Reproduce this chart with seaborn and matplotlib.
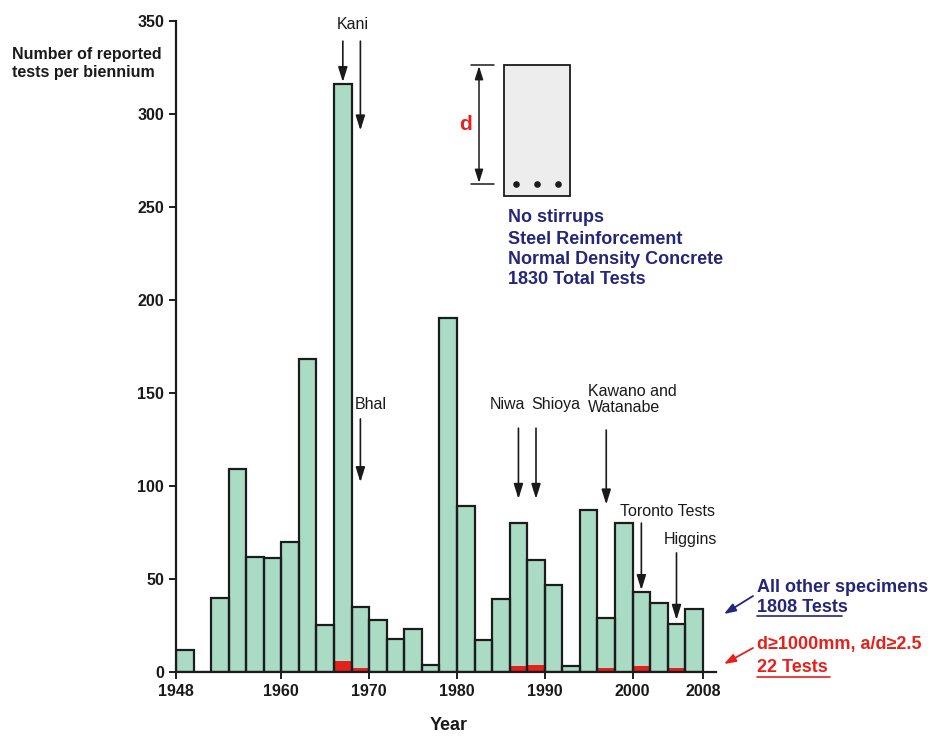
import numpy as np
import pandas as pd
import matplotlib
matplotlib.use("Agg")
import matplotlib.pyplot as plt
import seaborn as sns
from matplotlib.patches import Rectangle

# ---------------- data ----------------
years = [1948, 1952, 1954, 1956, 1958, 1960, 1962, 1964, 1966, 1968,
         1970, 1972, 1974, 1976, 1978, 1980, 1982, 1984, 1986, 1988,
         1990, 1992, 1994, 1996, 1998, 2000, 2002, 2004, 2006]
total_tests = [12, 40, 109, 62, 61, 70, 168, 25, 316, 35,
               28, 18, 23, 4, 190, 89, 17, 39, 80, 60,
               47, 3, 87, 29, 80, 43, 37, 26, 34]
large_tests = [0, 0, 0, 0, 0, 0, 0, 0, 6, 2,
               0, 0, 0, 0, 0, 0, 0, 0, 3, 4,
               0, 0, 0, 2, 0, 3, 0, 2, 0]
x_ticks = [1948, 1960, 1970, 1980, 1990, 2000, 2008]
y_ticks = [0, 50, 100, 150, 200, 250, 300, 350]

# annotations: (label, arrow year, arrow start value, arrow end value)
annotations = [
    ("Kani", 1967, 339, 317),
    ("", 1969, 339, 291),
    ("Bhal", 1969, 136, 102),
    ("Niwa", 1987, 131, 93),
    ("Shioya", 1989, 131, 93),
    ("Kawano and\nWatanabe", 1997, 130, 90),
    ("Toronto Tests", 2001, 80, 44),
    ("Higgins", 2005, 64, 28),
]

df = pd.DataFrame({"year": years, "total": total_tests, "large": large_tests})

GREEN = "#aadcc5"
RED = "#e5211c"
NAVY = "#25257a"
EDGE = "#1c1c1c"

sns.set_style("ticks")
plt.rcParams["font.family"] = ["Liberation Sans", "DejaVu Sans"]

fig = plt.figure(figsize=(9.35, 7.36), dpi=100)
ax = fig.add_axes([176 / 935, 1 - 672 / 736, (716 - 176) / 935, (672 - 20.7) / 736])

hist_kw = dict(data=df, x="year", binwidth=2, binrange=(1948, 2008), ax=ax)
# green total bars (fill)
sns.histplot(weights="total", color=GREEN, alpha=1, edgecolor="none",
             linewidth=0, zorder=1, **hist_kw)
# red large-specimen bars
sns.histplot(weights="large", color=RED, alpha=1, edgecolor="none",
             linewidth=0, zorder=2, **hist_kw)
# outlines
sns.histplot(weights="total", fill=False, color=EDGE, linewidth=1.6,
             zorder=3, **hist_kw)

ax.set_xlim(1948, 2009.5)
ax.set_ylim(0, 350)
ax.set_xticks(x_ticks)
ax.set_yticks(y_ticks)
ax.set_xlabel("")
ax.set_ylabel("")
for sp in ["top", "right"]:
    ax.spines[sp].set_visible(False)
for sp in ["left", "bottom"]:
    ax.spines[sp].set_linewidth(1.6)
    ax.spines[sp].set_color(EDGE)
    ax.spines[sp].set_zorder(4)
ax.tick_params(axis="both", length=5, width=1.4, color=EDGE, labelsize=11.5,
               labelcolor="#1a1a1a")
for lab in ax.get_xticklabels() + ax.get_yticklabels():
    lab.set_fontweight("bold")

fig.text(12 / 935, 1 - 63 / 736, "Number of reported\ntests per biennium",
         fontsize=11.5, fontweight="bold", ha="left", va="center",
         linespacing=1.25, color="#1a1a1a")
fig.text(449 / 935, 1 - 725 / 736, "Year", fontsize=13, fontweight="bold",
         ha="center", va="center", color="#1a1a1a")

arrow_kw = dict(arrowstyle="-|>,head_length=0.9,head_width=0.28", lw=1.2,
                color="#1a1a1a", shrinkA=0, shrinkB=0)
for label, yr, v0, v1 in annotations:
    ax.annotate("", xy=(yr, v1), xytext=(yr, v0), arrowprops=arrow_kw,
                annotation_clip=False, zorder=6)

txt_kw = dict(fontsize=11.5, color="#1a1a1a", ha="center", va="center",
              clip_on=False)
ax.text(1968.1, 348, "Kani", **txt_kw)
ax.text(1970.2, 143.5, "Bhal", **txt_kw)
ax.text(1985.7, 143.5, "Niwa", **txt_kw)
ax.text(1991.3, 143.5, "Shioya", **txt_kw)
ax.text(1994.9, 146.5, "Kawano and\nWatanabe", fontsize=11.5, color="#1a1a1a",
        ha="left", va="center", linespacing=1.05, clip_on=False)
ax.text(2004.0, 86.5, "Toronto Tests", **txt_kw)
ax.text(2006.6, 71, "Higgins", **txt_kw)

# overlay in pixel coordinates for the diagram and key
ov = fig.add_axes([0, 0, 1, 1], zorder=5)
ov.set_xlim(0, 935)
ov.set_ylim(736, 0)
ov.axis("off")
ov.patch.set_alpha(0)

ov.add_patch(Rectangle((504, 65), 66, 131, facecolor="#ededed",
                       edgecolor="#1a1a1a", lw=1.3))
ov.plot([471, 494], [65, 65], color="#1a1a1a", lw=1.1)
ov.plot([471, 494], [184, 184], color="#1a1a1a", lw=1.1)
ov.annotate("", xy=(479, 66), xytext=(479, 183),
            arrowprops=dict(arrowstyle="<|-|>,head_length=0.8,head_width=0.25",
                            lw=1.1, color="#1a1a1a", shrinkA=0, shrinkB=0))
ov.text(466, 125, "d", color=RED, fontsize=15, fontweight="bold",
        ha="center", va="center")
ov.scatter([516, 537, 558], [184, 184, 184], s=14, color="#1a1a1a", zorder=6)
for yy, s in zip([218, 240, 260, 280],
                 ["No stirrups", "Steel Reinforcement",
                  "Normal Density Concrete", "1830 Total Tests"]):
    ov.text(508, yy, s, color=NAVY, fontsize=13, fontweight="bold",
            ha="left", va="center")

# key
ov.text(757, 588, "All other specimens", color=NAVY, fontsize=13,
        fontweight="bold", ha="left", va="center")
ov.text(757, 607, "1808 Tests", color=NAVY, fontsize=13,
        fontweight="bold", ha="left", va="center")
ov.plot([757, 842], [616, 616], color=NAVY, lw=1.2)
ov.annotate("", xy=(724, 614), xytext=(753, 596),
            arrowprops=dict(arrowstyle="-|>,head_length=0.7,head_width=0.25",
                            lw=1.3, color=NAVY, shrinkA=0, shrinkB=0))
ov.text(757, 645, "d\u22651000mm, a/d\u22652.5", color=RED, fontsize=13,
        fontweight="bold", ha="left", va="center")
ov.text(757, 668, "22 Tests", color=RED, fontsize=13,
        fontweight="bold", ha="left", va="center")
ov.plot([757, 830], [677, 677], color=RED, lw=1.2)
ov.annotate("", xy=(724, 664), xytext=(753, 648),
            arrowprops=dict(arrowstyle="-|>,head_length=0.7,head_width=0.25",
                            lw=1.3, color=RED, shrinkA=0, shrinkB=0))

fig.savefig("out.png", dpi=100)
